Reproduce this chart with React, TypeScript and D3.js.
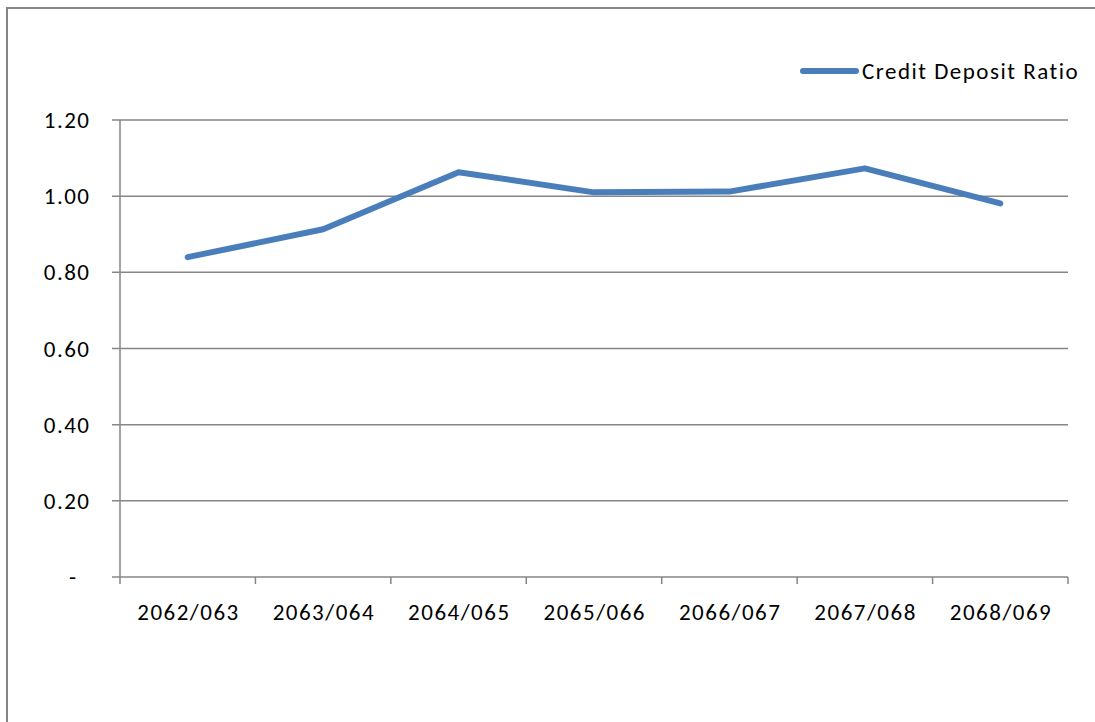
import React from "react";
import * as d3 from "d3";

const categories = ["2062/063", "2063/064", "2064/065", "2065/066", "2066/067", "2067/068", "2068/069"];
const creditDepositRatio = [0.84, 0.913, 1.063, 1.01, 1.012, 1.073, 0.981];
const yTicks = [0, 0.2, 0.4, 0.6, 0.8, 1.0, 1.2];
const seriesName = "Credit Deposit Ratio";

const W = 1095;
const H = 722;
const left = 120;
const right = 1068;
const top = 120;
const bottom = 577;
const FONT = "Calibri, Carlito, Lato, 'Open Sans', sans-serif";
const GRID = "#868686";
const BLUE = "#4a7ebb";
const FS = 23;
const LS = 1.5;

export default function App() {
  const x = d3.scaleBand<string>().domain(categories).range([left, right]).padding(0);
  const y = d3.scaleLinear().domain([0, 1.2]).range([bottom, top]);
  const line = d3
    .line<number>()
    .x((_, i) => (x(categories[i]) as number) + x.bandwidth() / 2)
    .y((d) => y(d));
  const fmt = (v: number) => (v === 0 ? "-" : d3.format(".2f")(v));
  const boundaries = [...categories.map((c) => x(c) as number), right];

  return (
    <svg
      width={W}
      height={H}
      style={{ position: "absolute", left: 0, top: 0, background: "#fff" }}
      fontFamily={FONT}
    >
      <rect x={7} y={8} width={W + 20} height={H + 20} fill="#fff" stroke={GRID} strokeWidth={2} />
      {yTicks.map((t) => (
        <g key={t}>
          <line x1={left - 8} x2={right} y1={y(t)} y2={y(t)} stroke={GRID} strokeWidth={1.5} />
          <text
            x={(t === 0 ? 76 : 89) + LS}
            y={y(t)}
            dy="0.35em"
            textAnchor="end"
            fontSize={FS}
            letterSpacing={LS}
            fill="#000"
          >
            {fmt(t)}
          </text>
        </g>
      ))}
      <line x1={left} x2={left} y1={top} y2={bottom} stroke={GRID} strokeWidth={1.5} />
      {boundaries.map((b, i) => (
        <line key={i} x1={b} x2={b} y1={bottom} y2={bottom + 7} stroke={GRID} strokeWidth={1.5} />
      ))}
      {categories.map((c) => (
        <text
          key={c}
          x={(x(c) as number) + x.bandwidth() / 2 + LS / 2}
          y={620}
          textAnchor="middle"
          fontSize={FS}
          letterSpacing={LS}
          fill="#000"
        >
          {c}
        </text>
      ))}
      <path
        d={line(creditDepositRatio) || ""}
        fill="none"
        stroke={BLUE}
        strokeWidth={6}
        strokeLinejoin="round"
        strokeLinecap="round"
      />
      <line x1={803} x2={856} y1={71} y2={71} stroke={BLUE} strokeWidth={6} strokeLinecap="round" />
      <text x={862} y={71} dy="0.35em" fontSize={FS} letterSpacing={LS} fill="#000">
        {seriesName}
      </text>
    </svg>
  );
}
